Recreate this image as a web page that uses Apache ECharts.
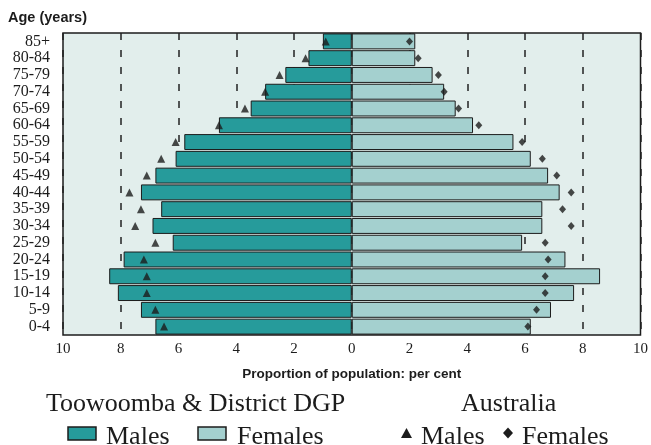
<!DOCTYPE html>
<html>
<head>
<meta charset="utf-8">
<script src="https://cdn.jsdelivr.net/npm/echarts@6/dist/echarts.min.js"></script>
<style>html,body{margin:0;padding:0;background:#fff}#c{width:651px;height:445px}</style>
</head>
<body>
<div id="c"></div>
<script>
const ages = ['0-4','5-9','10-14','15-19','20-24','25-29','30-34','35-39','40-44','45-49','50-54','55-59','60-64','65-69','70-74','75-79','80-84','85+'];
const males = [6.8,7.3,8.1,8.4,7.9,6.2,6.9,6.6,7.3,6.8,6.1,5.8,4.6,3.5,3.0,2.3,1.5,1.0];
const females = [6.2,6.9,7.7,8.6,7.4,5.9,6.6,6.6,7.2,6.8,6.2,5.6,4.2,3.6,3.2,2.8,2.2,2.2];
const ausMales = [6.5,6.8,7.1,7.1,7.2,6.8,7.5,7.3,7.7,7.1,6.6,6.1,4.6,3.7,3.0,2.5,1.6,0.9];
const ausFemales = [6.1,6.4,6.7,6.7,6.8,6.7,7.6,7.3,7.6,7.1,6.6,5.9,4.4,3.7,3.2,3.0,2.3,2.0];
const xTicks = [-10,-8,-6,-4,-2,0,2,4,6,8,10];

const TEAL = '#269b9b', LIGHT = '#a4d0cf', BG = '#e2eeec', INK = '#1c1c1c';
const serif = '"Liberation Serif", "DejaVu Serif", serif';
const sans = '"Liberation Sans", Arial, sans-serif';

const chart = echarts.init(document.getElementById('c'));
chart.setOption({
  animation: false,
  grid: { left: 63, right: 5, top: 33, bottom: 110, show: true, backgroundColor: BG, borderColor: INK, borderWidth: 1.5 },
  xAxis: {
    type: 'value', min: -10, max: 10, interval: 2,
    axisLine: { show: false }, axisTick: { show: false },
    axisLabel: { formatter: v => String(Math.abs(v)), fontFamily: serif, fontSize: 15, color: INK, margin: 7 },
    splitLine: { show: true, lineStyle: { color: '#222', width: 1.5, type: [7, 10] } },
    name: 'Proportion of population: per cent', nameLocation: 'middle', nameGap: 32,
    nameTextStyle: { fontFamily: sans, fontWeight: 'bold', fontSize: 13.5, color: INK }
  },
  yAxis: {
    type: 'category', data: ages,
    axisLine: { show: false }, axisTick: { show: false },
    axisLabel: { interval: 0, fontFamily: serif, fontSize: 16, color: INK, margin: 13 },
    splitLine: { show: false }
  },
  series: [
    { name: 'Males', type: 'bar', data: males.map(v => -v), barGap: '-100%', barCategoryGap: '5%',
      itemStyle: { color: TEAL, borderColor: INK, borderWidth: 1 }, z: 2 },
    { name: 'Females', type: 'bar', data: females, barGap: '-100%', barCategoryGap: '5%',
      itemStyle: { color: LIGHT, borderColor: INK, borderWidth: 1 }, z: 2 },
    { name: 'Australia Males', type: 'scatter', data: ausMales.map((v, i) => [-v, ages[i]]),
      symbol: 'triangle', symbolSize: 8, itemStyle: { color: INK }, z: 5 },
    { name: 'Australia Females', type: 'scatter', data: ausFemales.map((v, i) => [v, ages[i]]),
      symbol: 'diamond', symbolSize: [7, 8], itemStyle: { color: INK }, z: 5 }
  ],
  graphic: [
    { type: 'text', left: 8, top: 10, style: { text: 'Age (years)', font: 'bold 14.5px ' + sans, fill: INK } },
    { type: 'text', left: 46, top: 391, style: { text: 'Toowoomba & District DGP', font: '26px ' + serif, fill: INK } },
    { type: 'text', left: 461, top: 391, style: { text: 'Australia', font: '26px ' + serif, fill: INK } },
    { type: 'rect', shape: { x: 68, y: 427, width: 28, height: 13 }, style: { fill: TEAL, stroke: INK, lineWidth: 1.5 } },
    { type: 'text', left: 106, top: 424, style: { text: 'Males', font: '26px ' + serif, fill: INK } },
    { type: 'rect', shape: { x: 198, y: 427, width: 28, height: 13 }, style: { fill: LIGHT, stroke: INK, lineWidth: 1.5 } },
    { type: 'text', left: 237, top: 424, style: { text: 'Females', font: '26px ' + serif, fill: INK } },
    { type: 'polygon', shape: { points: [[406.5, 428], [412, 438], [401, 438]] }, style: { fill: INK } },
    { type: 'text', left: 421, top: 424, style: { text: 'Males', font: '26px ' + serif, fill: INK } },
    { type: 'polygon', shape: { points: [[508, 427.5], [513, 433], [508, 438.5], [503, 433]] }, style: { fill: INK } },
    { type: 'text', left: 522, top: 424, style: { text: 'Females', font: '26px ' + serif, fill: INK } }
  ]
});
</script>
</body>
</html>
